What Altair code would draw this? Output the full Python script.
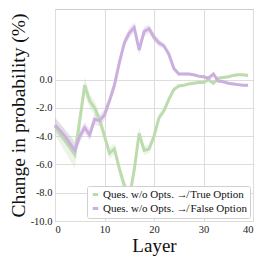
import altair as alt
import pandas as pd

layers = list(range(40))

true_opt = [-3.3, -3.8, -4.3, -4.8, -5.3, -2.9, -0.4, -1.5, -2.0, -2.8,
            -4.0, -5.2, -4.9, -6.3, -7.5, -8.4, -6.4, -3.8, -5.0, -4.9,
            -4.0, -2.7, -2.2, -1.4, -0.7, -0.45, -0.4, -0.3, -0.25, -0.2,
            -0.2, 0.0, -0.25, 0.1, 0.15, 0.2, 0.3, 0.35, 0.35, 0.3]
true_err = [0.6, 0.7, 0.8, 0.9, 1.0, 0.8, 0.6, 0.5, 0.5, 0.4,
            0.4, 0.4, 0.4, 0.4, 0.5, 0.5, 0.5, 0.4, 0.35, 0.3,
            0.3, 0.25, 0.2, 0.15, 0.15, 0.12, 0.1, 0.1, 0.1, 0.1,
            0.1, 0.1, 0.1, 0.1, 0.1, 0.1, 0.1, 0.1, 0.1, 0.1]

false_opt = [-3.2, -3.6, -4.0, -4.5, -5.0, -4.0, -3.4, -3.9, -2.8, -2.9,
             -2.5, -1.5, -0.4, 1.2, 2.6, 3.3, 3.7, 2.1, 3.4, 3.6,
             3.0, 2.6, 2.4, 1.8, 0.8, 0.4, 0.4, 0.4, 0.35, 0.25,
             0.2, 0.1, 0.4, -0.1, -0.15, -0.25, -0.3, -0.35, -0.4, -0.4]
false_err = [0.5, 0.5, 0.5, 0.5, 0.5, 0.45, 0.4, 0.4, 0.4, 0.4,
             0.4, 0.35, 0.35, 0.35, 0.35, 0.35, 0.35, 0.35, 0.35, 0.3,
             0.3, 0.25, 0.2, 0.15, 0.12, 0.1, 0.1, 0.1, 0.1, 0.1,
             0.1, 0.1, 0.1, 0.1, 0.1, 0.1, 0.1, 0.1, 0.1, 0.1]

series_names = ["Ques. w/o Opts. \u219b True Option",
                "Ques. w/o Opts. \u219b False Option"]
series_colors = ["#bcdcae", "#cbb0de"]

y_ticks = [-10, -8, -6, -4, -2, 0]
x_ticks = [0, 10, 20, 30, 40]

rows = []
for name, vals, errs in [(series_names[0], true_opt, true_err),
                         (series_names[1], false_opt, false_err)]:
    for l, v, e in zip(layers, vals, errs):
        rows.append({"layer": l, "value": v, "lo": v - e, "hi": v + e, "series": name})
df = pd.DataFrame(rows)

FONT = "Liberation Serif"

x_enc = alt.X("layer:Q", scale=alt.Scale(domain=[0, 40], nice=False),
              axis=alt.Axis(values=x_ticks, title="Layer", format="d",
                            labelPadding=3, titlePadding=2, titleFontSize=19))
y_scale = alt.Scale(domain=[-10, 5], nice=False)

band = alt.Chart(df).mark_area(opacity=0.3, interpolate="linear").encode(
    x=x_enc,
    y=alt.Y("lo:Q", scale=y_scale),
    y2="hi:Q",
    fill=alt.Fill("series:N", scale=alt.Scale(domain=series_names, range=series_colors),
                  legend=None),
    detail="series:N",
)

line = alt.Chart(df).mark_line(strokeWidth=3).encode(
    x=x_enc,
    y=alt.Y("value:Q", scale=y_scale,
            axis=alt.Axis(values=y_ticks, title="Change in probability (%)",
                          labelExpr="(datum.value < 0 ? '-' : '') + format(abs(datum.value), '.1f')",
                          labelPadding=3, titlePadding=2, titleFontSize=19.5)),
    color=alt.Color("series:N", scale=alt.Scale(domain=series_names, range=series_colors),
                    sort=series_names,
                    legend=alt.Legend(title=None, orient="bottom-right", offset=3,
                                      symbolType="stroke", symbolStrokeWidth=3,
                                      symbolSize=30, labelFontSize=11,
                                      labelFont=FONT, labelLimit=0, labelColor="#111111",
                                      fillColor="white", strokeColor="#d0d0d0",
                                      padding=3, cornerRadius=2, rowPadding=1,
                                      labelOffset=2)),
)

chart = alt.layer(band, line).resolve_scale(color="independent").properties(
    width=198, height=212,
    autosize=alt.AutoSizeParams(type="none"),
    padding={"left": 47, "top": 1, "right": 5, "bottom": 37},
).configure_view(
    stroke="#cccccc", strokeWidth=1
).configure_axis(
    grid=True, gridColor="#dddddd", gridWidth=1, domain=False, ticks=False,
    labelFont=FONT, labelFontSize=10.5, labelColor="#222222",
    titleFont=FONT, titleFontWeight="normal", titleColor="#111111",
)

chart.save("out.html", embed_options={"renderer": "svg", "actions": False})
